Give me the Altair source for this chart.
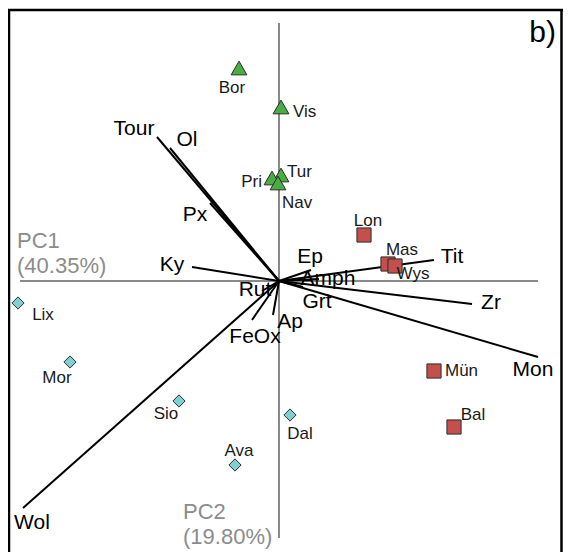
import altair as alt
import pandas as pd

# --- sample scores (PC1, PC2) ---
site_names = ["Bor", "Vis", "Tur", "Pri", "Nav",
              "Lon", "Mas", "Wys", "Mün", "Bal",
              "Lix", "Mor", "Sio", "Ava", "Dal"]
site_group = ["A", "A", "A", "A", "A",
              "B", "B", "B", "B", "B",
              "C", "C", "C", "C", "C"]
site_pc1 = [-0.40, 0.02, 0.02, -0.07, -0.01,
            0.85, 1.09, 1.16, 1.55, 1.75,
            -2.61, -2.09, -1.00, -0.44, 0.11]
site_pc2 = [2.13, 1.74, 1.06, 1.03, 0.98,
            0.46, 0.17, 0.15, -0.90, -1.46,
            -0.22, -0.81, -1.20, -1.84, -1.34]
site_lab_x = [-0.47, 0.14, 0.08, -0.17, 0.03,
              0.89, 1.23, 1.34, 1.66, 1.94,
              -2.36, -2.22, -1.13, -0.40, 0.21]
site_lab_y = [1.93, 1.69, 1.09, 0.99, 0.78,
              0.60, 0.31, 0.07, -0.90, -1.34,
              -0.34, -0.97, -1.33, -1.70, -1.53]
site_lab_align = ["center", "left", "left", "right", "left",
                  "center", "center", "center", "left", "center",
                  "center", "center", "center", "center", "center"]

# --- variable loadings ---
var_names = ["Tour", "Ol", "Px", "Ky", "Tit", "Ep", "Amph", "Grt",
             "Zr", "Mon", "Rut", "Ap", "FeOx", "Wol"]
var_pc1 = [-1.22, -1.09, -0.69, -0.87, 1.55, 0.32, 0.40, 0.24,
           1.93, 2.59, -0.17, -0.06, -0.27, -2.56]
var_pc2 = [1.44, 1.33, 0.78, 0.14, 0.21, 0.11, 0.02, -0.06,
           -0.23, -0.76, -0.10, -0.34, -0.39, -2.27]
var_lab_x = [-1.45, -0.92, -0.84, -1.07, 1.73, 0.31, 0.49, 0.38,
             2.12, 2.54, -0.24, 0.11, -0.24, -2.47]
var_lab_y = [1.52, 1.41, 0.66, 0.16, 0.24, 0.24, 0.02, -0.21,
             -0.22, -0.89, -0.09, -0.41, -0.56, -2.42]

# --- axis lines and titles ---
axis_x = [-2.59, 0.0]
axis_y = [0.0, 2.58]
axis_x2 = [2.59, 0.0]
axis_y2 = [0.0, -2.57]
title_text = ["PC1", "(40.35%)", "PC2", "(19.80%)"]
title_x = [-2.62, -2.62, -0.96, -0.96]
title_y = [0.40, 0.15, -2.31, -2.56]

sites = pd.DataFrame({"name": site_names, "group": site_group,
                      "x": site_pc1, "y": site_pc2,
                      "lx": site_lab_x, "ly": site_lab_y,
                      "align": site_lab_align})
loads = pd.DataFrame({"name": var_names, "x": [0.0] * len(var_names),
                      "y": [0.0] * len(var_names),
                      "x2": var_pc1, "y2": var_pc2,
                      "lx": var_lab_x, "ly": var_lab_y})
axes_df = pd.DataFrame({"x": axis_x, "y": axis_y, "x2": axis_x2, "y2": axis_y2})
titles = pd.DataFrame({"t": title_text, "x": title_x, "y": title_y})
panel = pd.DataFrame({"t": ["b)"], "x": [2.77], "y": [2.48]})

W, H = 555, 544
FONT = "Liberation Sans"
xs = alt.Scale(domain=[-2.71, -2.71 + W / 100], nice=False, zero=False)
ys = alt.Scale(domain=[2.73 - H / 100, 2.73], nice=False, zero=False)
X = lambda f: alt.X(f, type="quantitative", scale=xs, axis=None)
Y = lambda f: alt.Y(f, type="quantitative", scale=ys, axis=None)

anchor = alt.Chart(pd.DataFrame({"x": [0.0], "y": [0.0]}))

frame_left = anchor.mark_rule(color="black", strokeWidth=2.5).encode(
    x=alt.value(1), y=alt.value(2), y2=alt.value(H))
frame_top = anchor.mark_rule(color="black", strokeWidth=2.5).encode(
    x=alt.value(0), x2=alt.value(W), y=alt.value(2))
frame_right = anchor.mark_rule(color="black", strokeWidth=2.5).encode(
    x=alt.value(W - 1.5), y=alt.value(2), y2=alt.value(H))

axis_lines = alt.Chart(axes_df).mark_rule(color="#8a8a8a", strokeWidth=2).encode(
    x=X("x"), y=Y("y"), x2="x2", y2="y2")

axis_titles = alt.Chart(titles).mark_text(
    align="left", baseline="middle", font=FONT, fontSize=22, color="#8c8c8c"
).encode(x=X("x"), y=Y("y"), text="t")

load_lines = alt.Chart(loads).mark_rule(color="black", strokeWidth=2).encode(
    x=X("x"), y=Y("y"), x2="x2", y2="y2")

load_labels = alt.Chart(loads).mark_text(
    align="center", baseline="middle", font=FONT, fontSize=21, color="black"
).encode(x=X("lx"), y=Y("ly"), text="name")

points = alt.Chart(sites).mark_point(
    filled=True, opacity=1, stroke="#2b2b2b", strokeWidth=1
).encode(
    x=X("x"), y=Y("y"),
    shape=alt.Shape("group:N", scale=alt.Scale(
        domain=["A", "B", "C"], range=["triangle-up", "square", "diamond"]), legend=None),
    fill=alt.Fill("group:N", scale=alt.Scale(
        domain=["A", "B", "C"], range=["#4aad44", "#c4504e", "#80d0cf"]), legend=None),
    size=alt.Size("group:N", scale=alt.Scale(
        domain=["A", "B", "C"], range=[250, 150, 290]), legend=None),
)

site_labels_parts = []
for al in ["left", "center", "right"]:
    site_labels_parts.append(
        alt.Chart(sites).transform_filter(alt.datum.align == al).mark_text(
            align=al, baseline="middle", font=FONT, fontSize=17, color="#1a1a1a"
        ).encode(x=X("lx"), y=Y("ly"), text="name")
    )

panel_label = alt.Chart(panel).mark_text(
    align="right", baseline="middle", font=FONT, fontSize=30, color="black"
).encode(x=X("x"), y=Y("y"), text="t")

chart = alt.layer(
    frame_left, frame_top, frame_right,
    axis_lines, axis_titles, load_lines, load_labels,
    points, *site_labels_parts, panel_label
).properties(
    width=W, height=H, padding=0,
    autosize=alt.AutoSizeParams(type="none"),
    background="white",
).configure_view(stroke=None)

chart.save("out.html", embed_options={"renderer": "svg", "actions": False})
